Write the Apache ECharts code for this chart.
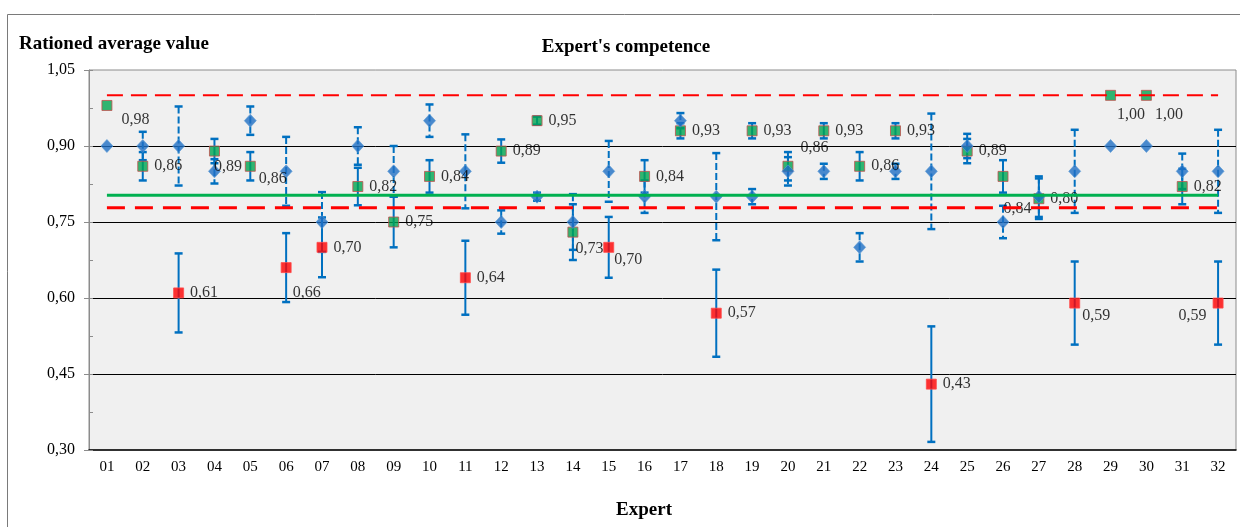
<!DOCTYPE html>
<html>
<head>
<meta charset="utf-8">
<script src="https://cdn.jsdelivr.net/npm/echarts@6/dist/echarts.min.js"></script>
<style>
  html, body { margin: 0; padding: 0; background: #ffffff; }
  #chart { width: 1240px; height: 527px; }
</style>
</head>
<body>
<div id="chart"></div>
<script>
// ---- data ----
const experts = ['01','02','03','04','05','06','07','08','09','10','11','12','13','14','15','16',
                 '17','18','19','20','21','22','23','24','25','26','27','28','29','30','31','32'];

// average estimate per expert (blue diamonds)
const averageScores = [0.90,0.90,0.90,0.85,0.95,0.85,0.75,0.90,0.85,0.95,0.85,0.75,0.80,0.75,0.85,0.80,
                       0.95,0.80,0.80,0.85,0.85,0.70,0.85,0.85,0.90,0.75,0.80,0.85,0.90,0.90,0.85,0.85];

// rationed competence value per expert (labelled squares)
const competence = [0.98,0.86,0.61,0.89,0.86,0.66,0.70,0.82,0.75,0.84,0.64,0.89,0.95,0.73,0.70,0.84,
                    0.93,0.57,0.93,0.86,0.93,0.86,0.93,0.43,0.89,0.84,0.796,0.59,1.00,1.00,0.82,0.59];

// half-width of the confidence interval per expert
const spreads = [0.000,0.028,0.078,0.024,0.028,0.068,0.059,0.037,0.050,0.032,0.073,0.023,0.008,0.055,0.060,0.032,
                 0.015,0.086,0.015,0.028,0.015,0.028,0.015,0.114,0.024,0.032,0.040,0.082,0.000,0.000,0.035,0.082];

// assessment group of each expert: 'accepted' or 'rejected'
const groups = ['accepted','accepted','rejected','accepted','accepted','rejected','rejected','accepted',
                'accepted','accepted','rejected','accepted','accepted','accepted','rejected','accepted',
                'accepted','rejected','accepted','accepted','accepted','accepted','accepted','rejected',
                'accepted','accepted','accepted','rejected','accepted','accepted','accepted','rejected'];

// reference levels
const upperLimit = 1.00;
const meanLevel = 0.803;
const lowerLimit = 0.778;

// value axis ticks
const yMin = 0.30, yMax = 1.05, yStep = 0.15, yMinorStep = 0.075;

// ---- styles ----
const FONT = '"Liberation Serif", "Times New Roman", serif';
const BAR_COLOR = '#0070c0';
const groupFill = { accepted: '#00a550', rejected: '#ff0000' };
const groupBorder = { accepted: '#c0504d', rejected: '#ff4a4a' };

// manual placement of some value labels (dx, dy) relative to the default right-side spot
const labelNudge = {
  '01': [3, 14], '04': [-12, 16], '05': [-3, 13], '06': [-5, 25], '14': [-9, 17],
  '15': [-6, 12], '20': [1, -18], '26': [-11, 32], '28': [-4, 13], '29': [-5, 19],
  '30': [-3, 19]
};
const labelLeft = { '32': [0, 13] };

const fmt = v => v.toFixed(2).replace('.', ',');

function errorBars(values, dashed) {
  return {
    type: 'custom',
    silent: true,
    data: experts.map((c, i) => [i, values[i] - spreads[i], values[i] + spreads[i]]),
    encode: { x: 0, y: [1, 2] },
    renderItem(params, api) {
      const i = api.value(0);
      const lo = api.coord([i, api.value(1)]);
      const hi = api.coord([i, api.value(2)]);
      if (Math.abs(lo[1] - hi[1]) < 1) return { type: 'group', children: [] };
      const cap = 4;
      return {
        type: 'group',
        children: [
          { type: 'line', shape: { x1: hi[0], y1: hi[1], x2: lo[0], y2: lo[1] },
            style: { stroke: BAR_COLOR, lineWidth: 2, lineDash: dashed ? [7, 3] : null } },
          { type: 'line', shape: { x1: hi[0] - cap, y1: hi[1], x2: hi[0] + cap, y2: hi[1] },
            style: { stroke: BAR_COLOR, lineWidth: 2.5 } },
          { type: 'line', shape: { x1: lo[0] - cap, y1: lo[1], x2: lo[0] + cap, y2: lo[1] },
            style: { stroke: BAR_COLOR, lineWidth: 2.5 } }
        ]
      };
    }
  };
}

function levelLine(level, color, width, dash) {
  return {
    type: 'line',
    silent: true,
    symbol: 'none',
    data: experts.map(() => level),
    lineStyle: { color: color, width: width, type: dash || 'solid' }
  };
}

const squareData = experts.map((c, i) => {
  const item = {
    value: [i, competence[i]],
    itemStyle: { color: groupFill[groups[i]], borderColor: groupBorder[groups[i]], borderWidth: 1 }
  };
  if (labelNudge[c]) item.label = { offset: labelNudge[c] };
  if (labelLeft[c]) item.label = { position: 'left', offset: labelLeft[c] };
  return item;
});

const chart = echarts.init(document.getElementById('chart'));
chart.setOption({
  animation: false,
  backgroundColor: '#ffffff',
  title: [
    { text: "Expert's competence", left: 626, top: 38, padding: 0, textAlign: 'center',
      textStyle: { fontFamily: FONT, fontSize: 19, fontWeight: 'bold', color: '#000' } },
    { text: 'Rationed average value', left: 19, top: 35, padding: 0,
      textStyle: { fontFamily: FONT, fontSize: 19, fontWeight: 'bold', color: '#000' } },
    { text: 'Expert', left: 644, top: 501, padding: 0, textAlign: 'center',
      textStyle: { fontFamily: FONT, fontSize: 19, fontWeight: 'bold', color: '#000' } }
  ],
  graphic: [
    { type: 'rect', shape: { x: 7.5, y: 14.5, width: 1250, height: 530 },
      style: { fill: null, stroke: '#7a7a7a', lineWidth: 1 }, z: -10 }
  ],
  grid: {
    left: 89, right: 4, top: 70, bottom: 77,
    show: true, backgroundColor: '#f0f0f0', borderColor: '#8c8c8c', borderWidth: 1
  },
  xAxis: {
    type: 'category',
    data: experts,
    boundaryGap: true,
    axisLine: { lineStyle: { color: '#000', width: 1.5 } },
    axisTick: { show: false },
    axisLabel: { fontFamily: FONT, fontSize: 15, color: '#000', margin: 10 },
    splitLine: { show: false }
  },
  yAxis: [
    {
      type: 'value', position: 'left',
      min: yMin, max: yMax, interval: yStep,
      axisLine: { show: true, lineStyle: { color: '#8c8c8c' } },
      axisTick: { show: true, length: 5, lineStyle: { color: '#8c8c8c' } },
      axisLabel: { fontFamily: FONT, fontSize: 16, color: '#000', margin: 14, formatter: v => fmt(v) },
      splitLine: { show: true, showMinLine: false, showMaxLine: false, lineStyle: { color: '#000', width: 1 } }
    },
    {
      type: 'value', position: 'left',
      min: yMin, max: yMax, interval: yMinorStep,
      axisLine: { show: false },
      axisTick: { show: true, inside: true, length: 4, lineStyle: { color: '#8c8c8c' } },
      axisLabel: { show: false },
      splitLine: { show: false }
    }
  ],
  series: [
    levelLine(upperLimit, '#ff0000', 2, [16, 8]),
    levelLine(lowerLimit, '#ff0000', 3, [18, 10]),
    levelLine(meanLevel, '#00b050', 3),
    errorBars(averageScores, true),
    errorBars(competence, false),
    {
      type: 'scatter',
      symbol: 'rect',
      symbolSize: 10,
      data: squareData,
      label: {
        show: true, position: 'right', distance: 6,
        fontFamily: FONT, fontSize: 16, color: '#000',
        formatter: p => fmt(p.value[1])
      }
    },
    {
      type: 'scatter',
      symbol: 'diamond',
      symbolSize: [12, 13],
      data: experts.map((c, i) => [i, averageScores[i]]),
      itemStyle: { color: '#1f6fc4', borderColor: '#5b9bd5', borderWidth: 0.8 }
    }
  ]
});
</script>
</body>
</html>
